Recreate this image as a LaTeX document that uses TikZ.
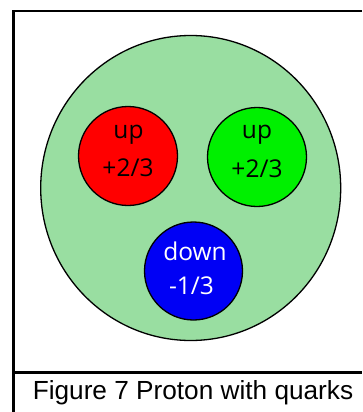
\documentclass[tikz,border=0pt]{standalone}
\usepackage{fontspec}
\usetikzlibrary{shapes.geometric}
\setmainfont{Liberation Sans}
\newfontfamily\quarkfont{Open Sans}
\definecolor{protongreen}{RGB}{153,222,161}
\definecolor{quarkred}{RGB}{255,0,0}
\definecolor{quarkgreen}{RGB}{0,240,0}
\definecolor{quarkblue}{RGB}{0,0,245}
\begin{document}
\begin{tikzpicture}[x=1pt,y=-1pt,
  frameline/.style={line width=2.2pt,black},
  proton/.style={ellipse,draw=black,line width=1.3pt,fill=protongreen,inner sep=0pt,minimum width=300pt,minimum height=305pt},
  quark/.style={circle,draw=black,line width=1.3pt,inner sep=0pt,minimum size=99pt},
  qlabel/.style={anchor=base,inner sep=0pt,font=\quarkfont\fontsize{24.5}{28}\selectfont},
  caption/.style={anchor=base,inner sep=0pt,font=\fontsize{26.2}{30}\selectfont}]
\useasboundingbox (0,0) rectangle (362,412);
\fill[white] (0,0) rectangle (362,412);
% frame
\coordinate (tl) at (13.5,11);
\coordinate (tr) at (362,11);
\coordinate (bl) at (13.5,412);
\coordinate (dl) at (13.5,372.5);
\coordinate (dr) at (362,372.5);
\draw[frameline] (tr) -- (tl) -- (bl);
\draw[frameline] (dl) -- (dr);
% proton
\node[proton] (p) at (190.7,188) {};
% quarks
\node[quark,fill=quarkred] (r) at (128,156) {};
\node[quark,fill=quarkgreen] (g) at (257,157) {};
\node[quark,fill=quarkblue,minimum size=98pt] (b) at (193.5,271) {};
% labels
\node[qlabel] (r1) at (128.5,138.5) {up};
\node[qlabel] (r2) at (128,176.7) {+2/3};
\node[qlabel] (g1) at (257,138.5) {up};
\node[qlabel] (g2) at (257,177) {+2/3};
\node[qlabel,text=white] (b1) at (195,260) {down};
\node[qlabel,text=white] (b2) at (191.5,294.3) {-1/3};
% caption
\node[caption] (cap) at (193,399) {Figure 7 Proton with quarks};
\end{tikzpicture}
\end{document}
